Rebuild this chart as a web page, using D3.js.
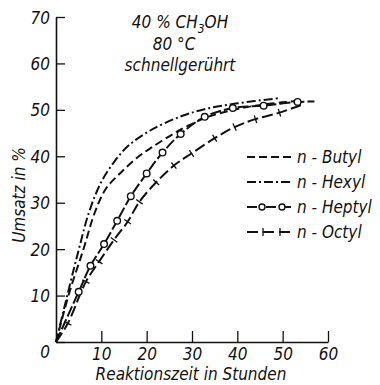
<!DOCTYPE html>
<html>
<head>
<meta charset="utf-8">
<script src="https://cdn.jsdelivr.net/npm/d3@7"></script>
<style>
  body { margin: 0; background: #fff; }
  svg text { font-family: "DejaVu Sans Condensed", "DejaVu Sans", sans-serif; font-stretch: condensed; font-style: italic; fill: #111; }
</style>
</head>
<body>
<div id="chart"></div>
<script>
// Reaktionszeit (h) / Umsatz (%) pairs
var butyl  = [[0,0],[2.9,10.5],[6,19.8],[8.6,28],[11,33],[14.1,36.3],[18,39.8],[21.4,42.1],[25.8,44.8],[28.8,46.4],[33,48.3],[40,50.2],[47,51.3],[54,52]];
var hexyl  = [[0,0],[2.6,10.5],[5,19.8],[7.3,28],[10,34.5],[13,39],[16,42.3],[20.7,45.5],[27.3,48.5],[33,50.2],[40,51.4],[49,52.5]];
var heptyl = [[0,0],[5,10.8],[7.6,16.4],[10.6,21.1],[13.5,26.1],[16.5,31.4],[20,36.3],[23.5,40.8],[27.5,44.8],[32.8,48.5],[39,50.4],[45.8,50.9],[53.3,51.7],[57,51.8]];
var octyl  = [[0,0],[2.6,4],[6.6,13],[9.5,17.3],[12.8,22],[15.8,25.9],[18.4,30.2],[22.1,34.4],[26,38],[29.9,40.6],[35,43.9],[39.4,46.3],[44,48],[49.3,49.4],[54,51]];

var xTicks = [10, 20, 30, 40, 50, 60];
var yTicks = [0, 10, 20, 30, 40, 50, 60, 70];
var legendNames = ["n - Butyl", "n - Hexyl", "n - Heptyl", "n - Octyl"];
var notes = ["40 % CH", "80 °C", "schnellgerührt"];

var width = 380, height = 385;

var svg = d3.select("#chart").append("svg")
  .attr("width", width)
  .attr("height", height);

svg.append("rect").attr("width", width).attr("height", height).attr("fill", "#fff");

var x = d3.scaleLinear().domain([0, 60]).range([56, 328]);
var y = d3.scaleLinear().domain([0, 70]).range([342, 17]);

// axes, ticks pointing inward
var yAxis = d3.axisLeft(y).tickValues(yTicks).tickSizeInner(-9).tickSizeOuter(0).tickPadding(6);
var xAxis = d3.axisBottom(x).tickValues(xTicks).tickSizeInner(-11).tickSizeOuter(0).tickPadding(5);

var gy = svg.append("g").attr("transform", "translate(" + x(0) + ",0)").call(yAxis);
var gx = svg.append("g").attr("transform", "translate(0," + y(0) + ")").call(xAxis);

[gx, gy].forEach(function(g) {
  g.selectAll("path").attr("stroke", "#111").attr("stroke-width", 1.6);
  g.selectAll("line").attr("stroke", "#111").attr("stroke-width", 1.3);
  g.selectAll("text").attr("font-size", 17).attr("font-family", null);
});
gy.selectAll("text").attr("dy", function(d) { return d === 0 ? "0.9em" : "0.36em"; });
gx.selectAll("text").attr("dy", "0.75em");

// axis titles
svg.append("text")
  .attr("transform", "translate(25,195) rotate(-90)")
  .attr("text-anchor", "middle")
  .attr("font-size", 17)
  .text("Umsatz in %");

svg.append("text")
  .attr("x", 191).attr("y", 380)
  .attr("text-anchor", "middle")
  .attr("font-size", 17)
  .text("Reaktionszeit in Stunden");

// annotation
var t1 = svg.append("text").attr("x", 180).attr("y", 28).attr("text-anchor", "middle").attr("font-size", 17);
t1.append("tspan").text(notes[0]);
t1.append("tspan").attr("dy", 5).attr("font-size", 12).text("3");
t1.append("tspan").attr("dy", -5).text("OH");
svg.append("text").attr("x", 174).attr("y", 50).attr("text-anchor", "middle").attr("font-size", 17).text(notes[1]);
svg.append("text").attr("x", 180).attr("y", 71).attr("text-anchor", "middle").attr("font-size", 17).text(notes[2]);

var line = d3.line()
  .x(function(d) { return x(d[0]); })
  .y(function(d) { return y(d[1]); })
  .curve(d3.curveCatmullRom.alpha(0.5));

var styles = [
  { data: butyl,  dash: "8,4" },
  { data: hexyl,  dash: "9,3,2,3" },
  { data: heptyl, dash: "11,3" },
  { data: octyl,  dash: "11,4" }
];

styles.forEach(function(s) {
  svg.append("path")
    .datum(s.data)
    .attr("d", line)
    .attr("fill", "none")
    .attr("stroke", "#111")
    .attr("stroke-width", 2)
    .attr("stroke-dasharray", s.dash);
});

// heptyl circles
svg.selectAll("circle.hep")
  .data(heptyl.slice(1, heptyl.length - 1))
  .enter().append("circle")
  .attr("class", "hep")
  .attr("cx", function(d) { return x(d[0]); })
  .attr("cy", function(d) { return y(d[1]); })
  .attr("r", 3.3)
  .attr("fill", "#fff")
  .attr("stroke", "#111")
  .attr("stroke-width", 1.4);

// octyl cross ticks, perpendicular to curve
var octMarks = octyl.slice(1, octyl.length - 1).map(function(d, i) {
  var a = octyl[i], b = octyl[i + 2];
  var ang = Math.atan2(y(b[1]) - y(a[1]), x(b[0]) - x(a[0])) * 180 / Math.PI;
  return { p: d, ang: ang };
});
svg.selectAll("line.oct")
  .data(octMarks)
  .enter().append("line")
  .attr("class", "oct")
  .attr("transform", function(d) { return "translate(" + x(d.p[0]) + "," + y(d.p[1]) + ") rotate(" + d.ang + ")"; })
  .attr("x1", 0).attr("x2", 0).attr("y1", -4).attr("y2", 4)
  .attr("stroke", "#111").attr("stroke-width", 1.3);

// legend
var legY = [157, 182, 207, 232];
legendNames.forEach(function(name, i) {
  var ly = legY[i];
  svg.append("line")
    .attr("x1", 247).attr("x2", 291).attr("y1", ly).attr("y2", ly)
    .attr("stroke", "#111").attr("stroke-width", 2)
    .attr("stroke-dasharray", i == 2 ? "10,9" : i == 3 ? "11,5" : styles[i].dash);
  if (i == 2) {
    [262, 282].forEach(function(cx) {
      svg.append("circle").attr("cx", cx).attr("cy", ly).attr("r", 3)
        .attr("fill", "#fff").attr("stroke", "#111").attr("stroke-width", 1.4);
    });
  }
  if (i == 3) {
    [263, 280].forEach(function(cx) {
      svg.append("line").attr("x1", cx).attr("x2", cx).attr("y1", ly - 4).attr("y2", ly + 4)
        .attr("stroke", "#111").attr("stroke-width", 1.3);
    });
  }
  svg.append("text")
    .attr("x", 297).attr("y", ly).attr("dy", "0.35em")
    .attr("font-size", 17)
    .text(name);
});
</script>
</body>
</html>
